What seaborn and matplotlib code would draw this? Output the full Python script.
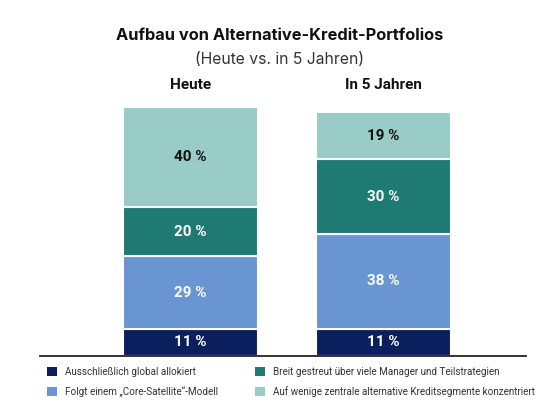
import matplotlib
matplotlib.use("Agg")
import matplotlib.pyplot as plt
import seaborn as sns
import pandas as pd

# Daten
zeitpunkte = ["Heute", "In 5 Jahren"]
segmente = [
    "Ausschließlich global allokiert",
    "Folgt einem „Core-Satellite“-Modell",
    "Breit gestreut über viele Manager und Teilstrategien",
    "Auf wenige zentrale alternative Kreditsegmente konzentriert",
]
global_allokiert = [11, 11]
core_satellite = [29, 38]
breit_gestreut = [20, 30]
konzentriert = [40, 19]

farben = ["#0b1f5e", "#6a95d3", "#1e7a73", "#99cbc7"]
textfarben = ["white", "white", "white", "#111111"]

sns.set_theme(style="white")
# schmale Schrift für Beschriftungen
plt.rcParams["font.family"] = ["Roboto", "DejaVu Sans"]

df = pd.DataFrame({
    "zeit": zeitpunkte,
    segmente[0]: global_allokiert,
    segmente[1]: core_satellite,
    segmente[2]: breit_gestreut,
    segmente[3]: konzentriert,
})

fig = plt.figure(figsize=(5.6, 4.11), dpi=100)
ax = fig.add_axes([40 / 560, 1 - 356 / 411, 486 / 560, 249 / 411])

unten = [0, 0]
for seg, farbe, tf in zip(segmente, farben, textfarben):
    werte = df[seg].tolist()
    sns.barplot(data=df, x="zeit", y=seg, color=farbe, width=0.7,
                bottom=unten, edgecolor="white", linewidth=1.5,
                label=seg, ax=ax, saturation=1)
    cont = ax.containers[-1]
    ax.bar_label(cont, labels=[f"{v} %" for v in werte], label_type="center",
                 color=tf, fontsize=11, fontweight="bold")
    unten = [u + w for u, w in zip(unten, werte)]

ax.set_ylim(0, 100)
ax.set_xlim(-0.78, 1.74)
ax.set_ylabel("")
ax.set_xlabel("")
ax.set_yticks([])
ax.xaxis.set_ticks_position("top")
ax.tick_params(axis="x", length=0, pad=11, labelsize=11, colors="#111111")
for lab in ax.get_xticklabels():
    lab.set_fontweight("bold")
for s in ["top", "left", "right"]:
    ax.spines[s].set_visible(False)
ax.spines["bottom"].set_color("#222222")
ax.spines["bottom"].set_linewidth(1.3)

if ax.get_legend():
    ax.get_legend().remove()
handles, labels = ax.get_legend_handles_labels()
leg_opts = dict(loc="center left", frameon=False, fontsize=7.1,
                handlelength=1.05, handleheight=1.05, handletextpad=0.75,
                labelspacing=0.9, labelcolor="#333333", borderpad=0,
                borderaxespad=0)
leg1 = fig.legend(handles[:2], labels[:2],
                  bbox_to_anchor=(47 / 560, 1 - 382 / 411), **leg_opts)
leg2 = fig.legend(handles[2:], labels[2:],
                  bbox_to_anchor=(255 / 560, 1 - 382 / 411), **leg_opts)
for leg in (leg1, leg2):
    for h in leg.legend_handles:
        h.set_linewidth(0)

titel_font = ["Inter", "DejaVu Sans"]
fig.text(0.5, 1 - 35 / 411, "Aufbau von Alternative-Kredit-Portfolios",
         ha="center", va="center", fontsize=11.8, fontweight="bold",
         family=titel_font, color="#111111")
fig.text(0.5, 1 - 60 / 411, "(Heute vs. in 5 Jahren)", ha="center",
         va="center", fontsize=11.3, family=titel_font, color="#333333")

fig.savefig("out.png", dpi=100)
